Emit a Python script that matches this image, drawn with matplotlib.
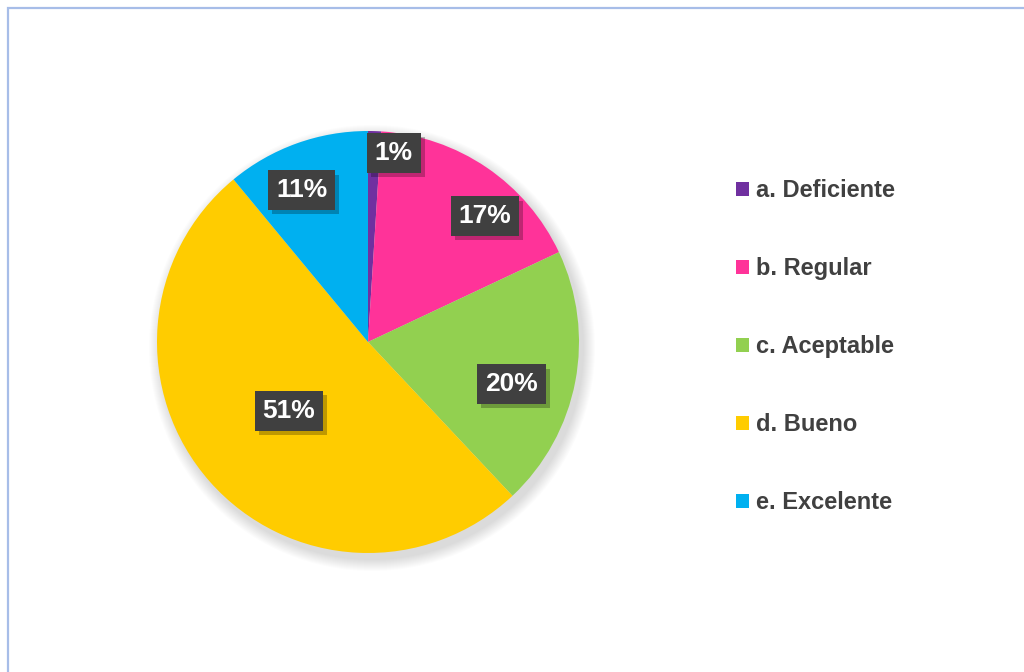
import matplotlib
matplotlib.use('Agg')
from matplotlib import pyplot as plt
from matplotlib import patheffects as pe
from matplotlib.patches import Circle, Rectangle, Patch
import numpy as np

labels = ['a. Deficiente', 'b. Regular', 'c. Aceptable', 'd. Bueno', 'e. Excelente']
values = [1, 17, 20, 51, 11]
colors = ['#7030A0', '#FF3399', '#92D050', '#FFCC00', '#00B0F0']
# where each percentage box sits, as fraction of radius and angle nudge (deg)
label_r = [0.90, 0.81, 0.71, 0.50, 0.78]
label_da = [-6, -9, -6, 0, 4]

plt.rcParams['font.family'] = ['Liberation Sans', 'DejaVu Sans']

fig = plt.figure(figsize=(10.24, 6.72), dpi=100)
ax = fig.add_axes([0, 0, 1, 1])

cx, cy, R = 368, 330, 211

# soft shadow under the pie
for i in range(12):
    ax.add_patch(Circle((cx + 4, cy - 6), R + 12 - i, color='#000000',
                        alpha=0.01, linewidth=0, zorder=1))

wedges, _ = ax.pie(values, colors=colors, startangle=90, counterclock=False,
                   center=(cx, cy), radius=R, frame=True,
                   wedgeprops=dict(linewidth=0, zorder=2))
ax.set_xlim(0, 1024)
ax.set_ylim(0, 672)
ax.set_aspect('equal')
ax.axis('off')

# chart border
ax.add_patch(Rectangle((8, -20), 1040, 684, fill=False,
                       edgecolor='#A7BDE8', linewidth=1.6))

for w, v, rf, da in zip(wedges, values, label_r, label_da):
    ang = np.deg2rad((w.theta1 + w.theta2) / 2 + da)
    x = cx + rf * R * np.cos(ang)
    y = cy + rf * R * np.sin(ang)
    t = ax.text(x, y + 1, '%d%%' % v, ha='center', va='center', fontsize=19,
                fontweight='bold', color='white', zorder=5,
                bbox=dict(boxstyle='square,pad=0.3', facecolor='#404040',
                          edgecolor='none'))
    t.get_bbox_patch().set_path_effects([
        pe.SimplePatchShadow(offset=(3, -3), shadow_rgbFace='black', alpha=0.25),
        pe.Normal()])

handles = [Patch(facecolor=c, edgecolor='none') for c in colors]
leg = ax.legend(handles, labels, loc='upper left',
                bbox_to_anchor=(736 / 1024, 1 - 179 / 672),
                frameon=False, fontsize=17, labelspacing=2.33, handlelength=0.55,
                handleheight=0.55, handletextpad=0.28, borderaxespad=0, borderpad=0)
for txt in leg.get_texts():
    txt.set_color('#404040')
    txt.set_fontweight('bold')

plt.savefig('out.png', dpi=100)
